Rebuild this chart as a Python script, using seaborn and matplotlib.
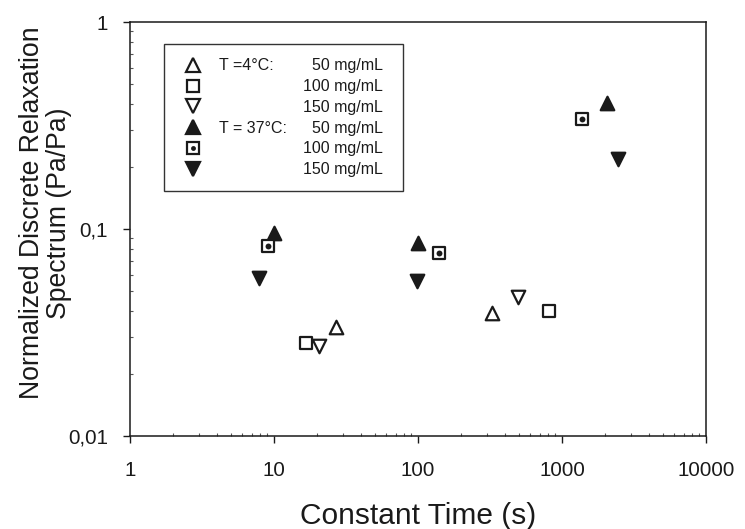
import matplotlib
matplotlib.use("Agg")
import matplotlib.pyplot as plt
import seaborn as sns
import pandas as pd
from matplotlib.lines import Line2D
from matplotlib.patches import Rectangle
from matplotlib.legend_handler import HandlerTuple
from matplotlib.ticker import LogLocator, FixedLocator, NullFormatter

sns.set_theme(style="white")
plt.rcParams["font.family"] = ["Liberation Sans", "DejaVu Sans"]

# Relaxation times (s) and normalized spectrum values per series
t4_50_x = [27.0, 326.0]
t4_50_y = [0.0336, 0.0393]
t4_100_x = [16.7, 812.0]
t4_100_y = [0.0281, 0.0402]
t4_150_x = [20.5, 495.0]
t4_150_y = [0.0272, 0.0469]
t37_50_x = [10.0, 100.0, 2053.0]
t37_50_y = [0.0957, 0.0856, 0.406]
t37_100_x = [9.1, 140.0, 1377.0]
t37_100_y = [0.0828, 0.0766, 0.340]
t37_150_x = [7.9, 98.4, 2448.0]
t37_150_y = [0.0580, 0.0561, 0.218]

temps = ["T =4°C:", " ", " ", "T = 37°C:", " ", " "]
concs = ["50 mg/mL", "100 mg/mL", "150 mg/mL", "50 mg/mL", "100 mg/mL", "150 mg/mL"]
x_ticks = [1, 10, 100, 1000, 10000]
x_ticklabels = ["1", "10", "100", "1000", "10000"]
y_ticks = [0.01, 0.1, 1]
y_ticklabels = ["0,01", "0,1", "1"]

fig = plt.figure(figsize=(7.45, 5.29), dpi=100)
ax = fig.add_axes([0.1745, 0.1758, 0.7732, 0.7826])

ink = "#1a1a1a"
lw = 1.6
ms_tri = 95
ms_sq = 80


def df(x, y):
    return pd.DataFrame({"t": x, "g": y})


# open markers, 4 °C
sns.scatterplot(data=df(t4_50_x, t4_50_y), x="t", y="g", ax=ax, marker="^",
                s=ms_tri, facecolor="white", edgecolor=ink, linewidth=lw, zorder=3)
sns.scatterplot(data=df(t4_100_x, t4_100_y), x="t", y="g", ax=ax, marker="s",
                s=ms_sq, facecolor="white", edgecolor=ink, linewidth=lw, zorder=3)
sns.scatterplot(data=df(t4_150_x, t4_150_y), x="t", y="g", ax=ax, marker="v",
                s=ms_tri, facecolor="white", edgecolor=ink, linewidth=lw, zorder=3)
# filled / dotted markers, 37 °C
sns.scatterplot(data=df(t37_50_x, t37_50_y), x="t", y="g", ax=ax, marker="^",
                s=ms_tri, facecolor=ink, edgecolor=ink, linewidth=lw, zorder=4)
sns.scatterplot(data=df(t37_100_x, t37_100_y), x="t", y="g", ax=ax, marker="s",
                s=ms_sq, facecolor="white", edgecolor=ink, linewidth=lw, zorder=4)
sns.scatterplot(data=df(t37_100_x, t37_100_y), x="t", y="g", ax=ax, marker="o",
                s=18, facecolor=ink, edgecolor=ink, linewidth=0, zorder=5)
sns.scatterplot(data=df(t37_150_x, t37_150_y), x="t", y="g", ax=ax, marker="v",
                s=ms_tri, facecolor=ink, edgecolor=ink, linewidth=lw, zorder=4)

ax.set_xscale("log")
ax.set_yscale("log")
ax.set_xlim(1, 10000)
ax.set_ylim(0.01, 1)

ax.xaxis.set_major_locator(FixedLocator(x_ticks))
ax.set_xticklabels(x_ticklabels)
ax.yaxis.set_major_locator(FixedLocator(y_ticks))
ax.set_yticklabels(y_ticklabels)
ax.xaxis.set_minor_locator(LogLocator(base=10, subs=range(2, 10)))
ax.yaxis.set_minor_locator(LogLocator(base=10, subs=range(2, 10)))
ax.xaxis.set_minor_formatter(NullFormatter())
ax.yaxis.set_minor_formatter(NullFormatter())

ax.tick_params(which="major", direction="out", length=5, width=1.0, color=ink,
               labelsize=14.8, labelcolor=ink, top=False, right=False,
               bottom=True, left=True)
ax.tick_params(axis="x", which="major", pad=13)
ax.tick_params(axis="y", which="major", pad=11)
ax.tick_params(which="minor", direction="in", length=2.5, width=0.8, color="#555555",
               top=False, right=False, bottom=True, left=True)

for sp in ax.spines.values():
    sp.set_color(ink)
    sp.set_linewidth(1.1)

ax.set_xlabel("Constant Time (s)", fontsize=21.5, color=ink, labelpad=16)
ax.set_ylabel("Normalized Discrete Relaxation\nSpectrum (Pa/Pa)", fontsize=19.2,
              color=ink, linespacing=1.05)
ax.yaxis.set_label_coords(-0.101, 0.539)
ax.grid(False)

# legend: markers + temperature column; concentrations right-aligned beside it
sq_open = Line2D([], [], ls="", marker="s", ms=9, mfc="white", mec=ink, mew=lw)
sq_dot = Line2D([], [], ls="", marker="o", ms=3.5, mfc=ink, mec=ink, mew=0)
handles = [
    Line2D([], [], ls="", marker="^", ms=10, mfc="white", mec=ink, mew=lw),
    Line2D([], [], ls="", marker="s", ms=9, mfc="white", mec=ink, mew=lw),
    Line2D([], [], ls="", marker="v", ms=10, mfc="white", mec=ink, mew=lw),
    Line2D([], [], ls="", marker="^", ms=10, mfc=ink, mec=ink, mew=lw),
    (sq_open, sq_dot),
    Line2D([], [], ls="", marker="v", ms=10, mfc=ink, mec=ink, mew=lw),
]
leg = ax.legend(handles, temps, loc="upper left", bbox_to_anchor=(0.0816, 0.912),
                borderaxespad=0, borderpad=0, frameon=False, fontsize=11.5,
                handlelength=2.0, handletextpad=0.6, labelspacing=0.36,
                handler_map={tuple: HandlerTuple(ndivide=1, pad=0)})
for txt in leg.get_texts():
    txt.set_color(ink)

ax.add_patch(Rectangle((0.059, 0.592), 0.415, 0.355, transform=ax.transAxes,
                       facecolor="none", edgecolor="#333333", linewidth=1.0,
                       zorder=9, clip_on=False))

fig.canvas.draw()
inv = ax.transAxes.inverted()
for i, txt in enumerate(leg.get_texts()):
    bb = txt.get_window_extent()
    yc = inv.transform((0, (bb.y0 + bb.y1) / 2))[1]
    ax.text(0.439, yc, concs[i], transform=ax.transAxes, ha="right", va="center",
            fontsize=11.5, color=ink, zorder=10)

fig.savefig("out.png", dpi=100)
